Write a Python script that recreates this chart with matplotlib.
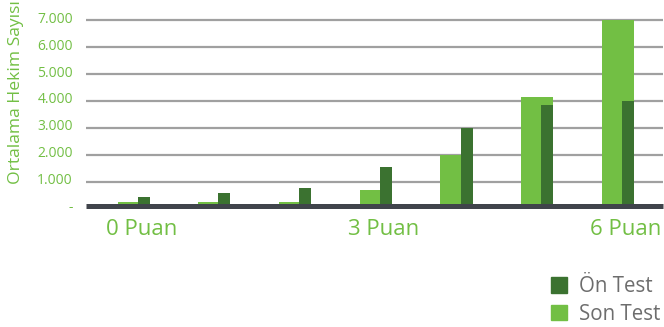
import matplotlib
matplotlib.use('Agg')
import matplotlib.pyplot as plt
import matplotlib.transforms as mtransforms
from matplotlib.patches import Patch

# ========================== DATA ==========================
categories = ['0 Puan', '1 Puan', '2 Puan', '3 Puan', '4 Puan', '5 Puan', '6 Puan']
on_test = [440, 580, 770, 1550, 3000, 3850, 4000]      # dark green
son_test = [240, 240, 240, 700, 2000, 4150, 7000]      # light green
shown_ticks = [0, 3, 6]
y_ticks = [0, 1000, 2000, 3000, 4000, 5000, 6000, 7000]
y_tick_labels = ['-', '1.000', '2.000', '3.000', '4.000', '5.000', '6.000', '7.000']

# ========================== STYLE ==========================
DARK_GREEN = '#3b7230'
LIGHT_GREEN = '#72bf44'
TEXT_GREEN = '#72bf44'
GRID_COLOR = '#a0a0a0'
BASE_COLOR = '#40444b'
LEGEND_TEXT = '#6d6d6d'
plt.rcParams['font.family'] = ['Open Sans', 'DejaVu Sans']

fig = plt.figure(figsize=(6.64, 3.27), dpi=100)
W, H = 664, 327
ax = fig.add_axes([86 / W, 1 - 208.6 / H, 577 / W, 191 / H])

x = list(range(len(categories)))
ax.bar([i - 0.3 for i in x], son_test, width=0.397, align='edge',
       color=LIGHT_GREEN, zorder=2, label='Son Test')
ax.bar([i - 0.052 for i in x], on_test, width=0.149, align='edge',
       color=DARK_GREEN, zorder=2.5, label='Ön Test')

for v in y_ticks[1:]:
    ax.axhline(v, color=GRID_COLOR, lw=1.6, zorder=1)

# thick dark baseline, nudged up a little
base_tr = ax.get_yaxis_transform() + mtransforms.ScaledTranslation(0, 2.8 / 100, fig.dpi_scale_trans)
ax.plot([0, 1], [0, 0], transform=base_tr, color=BASE_COLOR, lw=3.6,
        solid_capstyle='butt', zorder=3, clip_on=False)

ax.set_xlim(-0.694, 6.458)
ax.set_ylim(0, 7100)
for s in ax.spines.values():
    s.set_visible(False)

ax.set_yticks(y_ticks)
ax.set_yticklabels(y_tick_labels, color=TEXT_GREEN, fontsize=10)
ax.tick_params(axis='y', length=0, pad=9.5)
for lab in ax.get_yticklabels():
    lab.set_transform(lab.get_transform() + mtransforms.ScaledTranslation(0, 3 / 100, fig.dpi_scale_trans))

ax.set_xticks(shown_ticks)
ax.set_xticklabels([categories[i] for i in shown_ticks], color=TEXT_GREEN, fontsize=16)
ax.tick_params(axis='x', length=0, pad=7.2)

fig.text(16 / W, 1 - 184 / H, 'Ortalama Hekim Sayısı', rotation=90,
         color=TEXT_GREEN, fontsize=12.6, ha='center', va='bottom')

handles = [Patch(color=DARK_GREEN, label='Ön Test'), Patch(color=LIGHT_GREEN, label='Son Test')]
leg = fig.legend(handles=handles, loc='upper left', bbox_to_anchor=(551 / W, 1 - 276 / H),
                 frameon=False, fontsize=14.8, handlelength=0.78, handleheight=0.78,
                 handletextpad=0.6, labelspacing=0.32, borderpad=0, borderaxespad=0)
for t in leg.get_texts():
    t.set_color(LEGEND_TEXT)

fig.savefig('out.png', dpi=100)
